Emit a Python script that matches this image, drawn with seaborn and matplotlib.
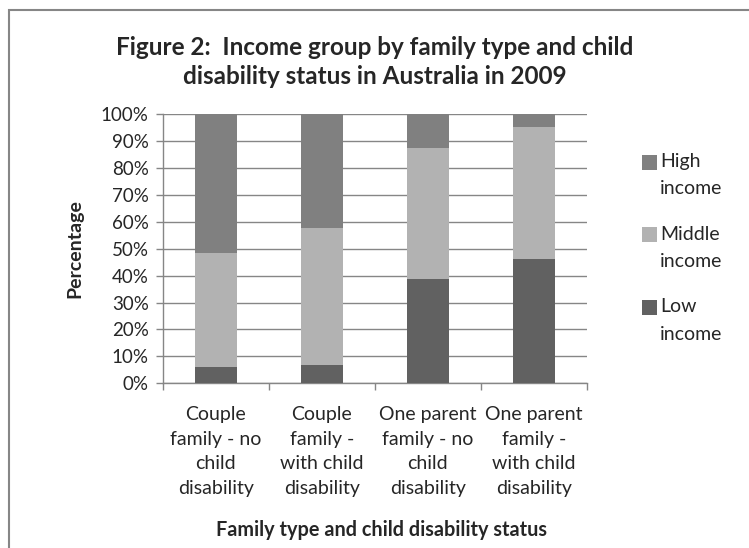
import matplotlib
matplotlib.use("Agg")
import matplotlib.pyplot as plt
import matplotlib.patches as mpatches
import seaborn as sns
import pandas as pd
import numpy as np

categories = ["Couple\nfamily - no\nchild\ndisability",
              "Couple\nfamily -\nwith child\ndisability",
              "One parent\nfamily - no\nchild\ndisability",
              "One parent\nfamily -\nwith child\ndisability"]
low_income = [6.2, 6.9, 38.9, 46.3]
middle_income = [42.2, 50.6, 48.6, 48.7]
high_income = [51.6, 42.5, 12.5, 5.0]
series_names = ["High\nincome", "Middle\nincome", "Low\nincome"]
colors = {"High\nincome": "#808080", "Middle\nincome": "#b2b2b2", "Low\nincome": "#616161"}
yticks = list(range(0, 101, 10))
ytick_labels = [f"{v}%" for v in yticks]

sns.set_theme(style="white")
plt.rcParams['font.family'] = ['Lato', 'DejaVu Sans']

df = pd.DataFrame({"category": categories,
                   "low": low_income,
                   "middle": middle_income,
                   "high": high_income})
df["cum_low"] = df["low"]
df["cum_mid"] = df["low"] + df["middle"]
df["cum_high"] = df["low"] + df["middle"] + df["high"]

W, H = 749, 548
fig = plt.figure(figsize=(W/100, H/100), dpi=100)
ax = fig.add_axes([162.7/W, 1-383.3/H, (586.7-162.7)/W, (383.3-114)/H])

grid_c = "#868686"
for y in yticks:
    ax.axhline(y, color=grid_c, lw=1.0, zorder=0)

sns.barplot(data=df, x="category", y="cum_high", color=colors["High\nincome"],
            width=0.4, ax=ax, saturation=1, zorder=2, linewidth=0)
sns.barplot(data=df, x="category", y="cum_mid", color=colors["Middle\nincome"],
            width=0.4, ax=ax, saturation=1, zorder=3, linewidth=0)
sns.barplot(data=df, x="category", y="cum_low", color=colors["Low\nincome"],
            width=0.4, ax=ax, saturation=1, zorder=4, linewidth=0)

ax.set_xlim(-0.5, 3.5)
ax.set_ylim(0, 100)
ax.set_yticks(yticks)
ax.set_yticklabels(ytick_labels, fontsize=13.5)
ax.set_xticks(range(4))
ax.set_xticklabels(categories, fontsize=14, linespacing=1.57)
ax.set_xticks(np.arange(-0.5, 4, 1), minor=True)
ax.tick_params(axis="x", which="major", length=0, pad=16)
ax.tick_params(axis="x", which="minor", length=5, color=grid_c, width=1, direction="out", bottom=True)
ax.tick_params(axis="y", length=5, color=grid_c, width=1, direction="out", left=True, pad=5)

for s in ["top", "right"]:
    ax.spines[s].set_visible(False)
for s in ["left", "bottom"]:
    ax.spines[s].set_color(grid_c)
    ax.spines[s].set_linewidth(1.0)

ax.set_xlabel("")
ax.set_ylabel("")
fig.text(381/W, 1-530/H, "Family type and child disability status",
         ha="center", va="center", fontsize=14.3, fontweight="bold")
fig.text(75/W, 1-249/H, "Percentage", rotation=90,
         ha="center", va="center", fontsize=14, fontweight="bold")
fig.text(0.5, 1-62/H, "Figure 2:  Income group by family type and child\ndisability status in Australia in 2009",
         ha="center", va="center", fontsize=17.5, fontweight="bold", linespacing=1.35)

# legend (square aligned with first line of each label, as in the reference)
for i, name in enumerate(series_names):
    yc = 162 + i * 72.5
    fig.add_artist(mpatches.Rectangle((642/W, 1-(yc+7.5)/H), 15/W, 15/H,
                                      transform=fig.transFigure,
                                      facecolor=colors[name], edgecolor="none"))
    first, second = name.split("\n")
    fig.text(660/W, 1-yc/H, first, ha="left", va="center", fontsize=14)
    fig.text(660/W, 1-(yc+27)/H, second, ha="left", va="center", fontsize=14)

fig.patches.append(mpatches.Rectangle((9/W, -0.1), 1.2, 1-10/H+0.1,
                                      transform=fig.transFigure, fill=False,
                                      edgecolor="#868686", lw=1.5))

fig.savefig("out.png", dpi=100)
